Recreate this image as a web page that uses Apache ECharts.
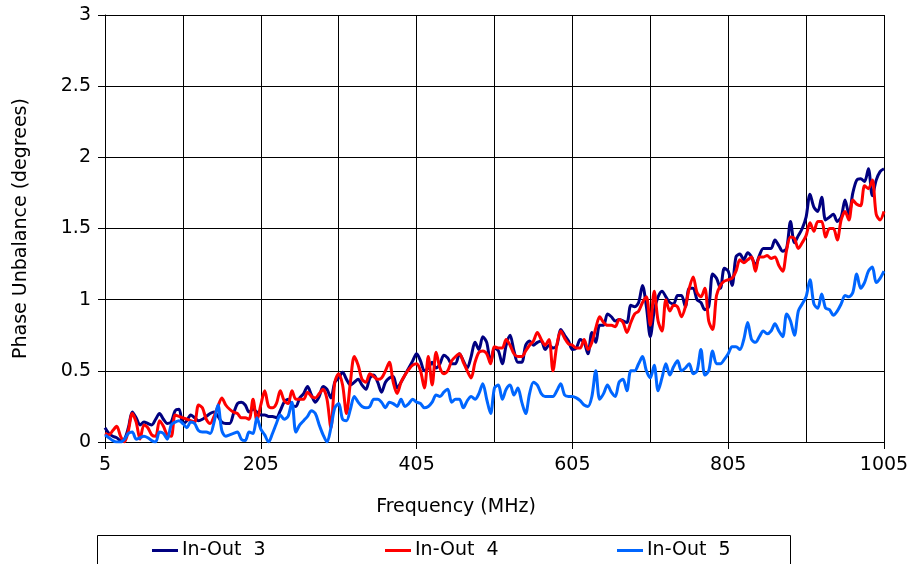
<!DOCTYPE html>
<html>
<head>
<meta charset="utf-8">
<title>Phase Unbalance vs Frequency</title>
<script src="https://cdn.jsdelivr.net/npm/echarts@6.0.0/dist/echarts.min.js"></script>
<style>
  html, body { margin: 0; padding: 0; background: #fff; }
  #chart { width: 912px; height: 564px; }
</style>
</head>
<body>
<div id="chart"></div>
<script>
// Sweep points: 201 frequencies, 5 MHz to 1005 MHz in 5 MHz steps
const freqMHz = Array.from({ length: 201 }, (_, i) => 5 + 5 * i);

// Labelled frequency ticks (every 200 MHz); grid lines every 100 MHz
const xTickLabels = ['5', '205', '405', '605', '805', '1005'];

const seriesNames = ['In-Out  3', 'In-Out  4', 'In-Out  5'];

// Phase unbalance (degrees), one value per sweep point
const inOut3 = [
  0.10, 0.06, 0.04, 0.03, 0.01, 0.02, 0.10, 0.21, 0.17, 0.12,
  0.14, 0.13, 0.12, 0.16, 0.20, 0.16, 0.13, 0.14, 0.22, 0.23,
  0.13, 0.15, 0.19, 0.17, 0.15, 0.16, 0.18, 0.20, 0.21, 0.18,
  0.14, 0.13, 0.13, 0.20, 0.27, 0.28, 0.26, 0.21, 0.23, 0.21,
  0.19, 0.19, 0.18, 0.18, 0.17, 0.22, 0.28, 0.30, 0.26, 0.25,
  0.31, 0.34, 0.39, 0.33, 0.28, 0.32, 0.39, 0.37, 0.31, 0.42,
  0.45, 0.49, 0.44, 0.40, 0.42, 0.44, 0.40, 0.37, 0.45, 0.47,
  0.42, 0.35, 0.42, 0.45, 0.46, 0.38, 0.42, 0.47, 0.52, 0.57,
  0.62, 0.57, 0.50, 0.52, 0.56, 0.52, 0.55, 0.61, 0.59, 0.55,
  0.55, 0.62, 0.57, 0.52, 0.60, 0.70, 0.65, 0.74, 0.70, 0.56,
  0.66, 0.64, 0.55, 0.68, 0.75, 0.64, 0.56, 0.56, 0.68, 0.71,
  0.68, 0.70, 0.71, 0.65, 0.68, 0.66, 0.68, 0.79, 0.75, 0.71,
  0.65, 0.66, 0.72, 0.70, 0.62, 0.77, 0.70, 0.82, 0.82, 0.90,
  0.88, 0.85, 0.86, 0.85, 0.84, 0.96, 0.95, 0.98, 1.10, 0.95,
  0.74, 0.92, 1.02, 1.06, 1.02, 0.98, 0.97, 1.03, 1.03, 0.95,
  1.08, 1.08, 1.00, 0.98, 0.93, 0.95, 1.18, 1.15, 1.08, 1.22,
  1.20, 1.10, 1.30, 1.32, 1.28, 1.33, 1.30, 1.24, 1.31, 1.36,
  1.36, 1.36, 1.42, 1.38, 1.34, 1.36, 1.55, 1.40, 1.45, 1.50,
  1.58, 1.74, 1.65, 1.62, 1.72, 1.56, 1.58, 1.60, 1.55, 1.58,
  1.70, 1.60, 1.75, 1.84, 1.85, 1.83, 1.92, 1.73, 1.84, 1.90,
  1.92
];

const inOut4 = [
  0.06, 0.05, 0.08, 0.11, 0.04, 0.00, 0.08, 0.20, 0.14, 0.02,
  0.12, 0.10, 0.05, 0.04, 0.15, 0.11, 0.05, 0.04, 0.19, 0.18,
  0.17, 0.16, 0.15, 0.14, 0.26, 0.24, 0.16, 0.13, 0.18, 0.25,
  0.31, 0.26, 0.23, 0.21, 0.20, 0.17, 0.17, 0.16, 0.30, 0.15,
  0.26, 0.36, 0.25, 0.24, 0.27, 0.36, 0.29, 0.27, 0.36, 0.30,
  0.30, 0.30, 0.35, 0.32, 0.31, 0.34, 0.37, 0.30, 0.10, 0.42,
  0.48, 0.40, 0.20, 0.42, 0.60, 0.54, 0.44, 0.42, 0.48, 0.46,
  0.44, 0.45, 0.50, 0.56, 0.42, 0.34, 0.42, 0.47, 0.51, 0.54,
  0.55, 0.50, 0.38, 0.60, 0.40, 0.63, 0.52, 0.48, 0.50, 0.57,
  0.60, 0.62, 0.56, 0.50, 0.45, 0.56, 0.63, 0.64, 0.62, 0.55,
  0.67, 0.66, 0.66, 0.72, 0.68, 0.62, 0.60, 0.60, 0.64, 0.68,
  0.71, 0.77, 0.72, 0.68, 0.72, 0.50, 0.68, 0.78, 0.73, 0.69,
  0.68, 0.66, 0.66, 0.72, 0.65, 0.70, 0.80, 0.88, 0.84, 0.82,
  0.82, 0.81, 0.86, 0.84, 0.77, 0.84, 0.90, 0.92, 0.98, 1.02,
  0.82, 1.06, 0.85, 0.78, 1.00, 0.92, 0.96, 0.95, 0.88, 0.95,
  1.08, 1.16, 1.05, 1.02, 1.08, 0.85, 0.79, 1.03, 1.10, 1.13,
  1.14, 1.15, 1.20, 1.28, 1.26, 1.28, 1.30, 1.20, 1.30, 1.30,
  1.31, 1.29, 1.30, 1.24, 1.20, 1.35, 1.44, 1.43, 1.36, 1.40,
  1.45, 1.54, 1.48, 1.55, 1.55, 1.44, 1.50, 1.50, 1.42, 1.56,
  1.62, 1.56, 1.70, 1.67, 1.66, 1.80, 1.78, 1.84, 1.60, 1.56,
  1.62
];

const inOut5 = [
  0.05, 0.03, 0.01, 0.00, 0.00, 0.02, 0.06, 0.07, 0.02, 0.03,
  0.04, 0.03, 0.01, 0.00, 0.07, 0.06, 0.02, 0.12, 0.14, 0.15,
  0.13, 0.10, 0.14, 0.13, 0.08, 0.07, 0.07, 0.06, 0.14, 0.26,
  0.08, 0.04, 0.05, 0.06, 0.07, 0.02, 0.01, 0.07, 0.06, 0.17,
  0.09, 0.05, 0.00, 0.06, 0.13, 0.19, 0.16, 0.18, 0.28, 0.07,
  0.12, 0.15, 0.18, 0.22, 0.20, 0.12, 0.05, 0.00, 0.10, 0.24,
  0.27, 0.16, 0.15, 0.23, 0.32, 0.28, 0.25, 0.24, 0.25, 0.30,
  0.30, 0.28, 0.24, 0.28, 0.27, 0.25, 0.30, 0.25, 0.27, 0.30,
  0.28, 0.27, 0.24, 0.25, 0.28, 0.33, 0.32, 0.35, 0.37, 0.28,
  0.30, 0.30, 0.24, 0.29, 0.32, 0.30, 0.34, 0.41, 0.30, 0.20,
  0.38, 0.40, 0.30, 0.37, 0.40, 0.33, 0.38, 0.28, 0.20, 0.34,
  0.42, 0.40, 0.34, 0.32, 0.32, 0.32, 0.36, 0.41, 0.33, 0.32,
  0.32, 0.31, 0.29, 0.26, 0.25, 0.32, 0.50, 0.30, 0.34, 0.40,
  0.35, 0.32, 0.42, 0.44, 0.36, 0.50, 0.50, 0.55, 0.60, 0.50,
  0.45, 0.54, 0.36, 0.45, 0.55, 0.47, 0.53, 0.57, 0.50, 0.52,
  0.55, 0.48, 0.50, 0.65, 0.47, 0.50, 0.64, 0.55, 0.55, 0.58,
  0.62, 0.67, 0.67, 0.65, 0.72, 0.84, 0.72, 0.70, 0.74, 0.78,
  0.76, 0.78, 0.83, 0.78, 0.74, 0.90, 0.85, 0.75, 0.92, 0.97,
  1.02, 1.14, 0.97, 0.94, 1.04, 0.94, 0.93, 0.89, 0.92, 0.97,
  1.03, 1.02, 1.05, 1.18, 1.08, 1.12, 1.20, 1.23, 1.12, 1.15,
  1.20
];

const seriesData = [inOut3, inOut4, inOut5];
const seriesColors = ['#000080', '#ff0000', '#0066ff'];

const FONT = 'DejaVu Sans, Verdana, sans-serif';
const textBase = { fontFamily: FONT, fontSize: 19, color: '#000' };

const chart = echarts.init(document.getElementById('chart'), null, { renderer: 'canvas' });

chart.setOption({
  animation: false,
  backgroundColor: '#fff',
  textStyle: { fontFamily: FONT },
  title: {
    text: 'Frequency (MHz)',
    left: 'center',
    top: 493,
    textStyle: Object.assign({ fontWeight: 'normal' }, textBase)
  },
  grid: { left: 105, right: 28, top: 15, bottom: 122 },
  xAxis: {
    type: 'category',
    data: freqMHz,
    boundaryGap: false,
    axisLine: { show: true, lineStyle: { color: '#000', width: 1 } },
    axisTick: {
      show: true,
      length: 7,
      interval: (idx, val) => xTickLabels.includes(String(val)),
      lineStyle: { color: '#000' }
    },
    axisLabel: {
      interval: (idx, val) => xTickLabels.includes(String(val)),
      margin: 14,
      ...textBase
    },
    splitLine: {
      show: true,
      interval: (idx) => idx % 20 === 0,
      lineStyle: { color: '#000', width: 1 }
    }
  },
  yAxis: {
    type: 'value',
    min: 0,
    max: 3,
    interval: 0.5,
    name: 'Phase Unbalance (degrees)',
    nameLocation: 'middle',
    nameRotate: 90,
    nameGap: 74,
    nameTextStyle: textBase,
    axisLine: { show: true, lineStyle: { color: '#000', width: 1 } },
    axisTick: { show: true, length: 7, lineStyle: { color: '#000' } },
    axisLabel: { margin: 14, ...textBase },
    splitLine: { show: true, lineStyle: { color: '#000', width: 1 } }
  },
  legend: seriesNames.map((name, k) => ({
    data: [name],
    left: [152, 385, 617][k],
    top: 541,
    icon: 'rect',
    itemWidth: 26,
    itemHeight: 3,
    padding: 0,
    textStyle: Object.assign({ padding: [0, 0, 0, -1] }, textBase)
  })),
  graphic: [{
    type: 'rect',
    shape: { x: 97.5, y: 535.5, width: 693, height: 40 },
    style: { fill: 'none', stroke: '#000', lineWidth: 1 },
    silent: true
  }],
  series: seriesNames.map((name, k) => ({
    name,
    type: 'line',
    data: seriesData[k],
    showSymbol: false,
    smooth: 0.3,
    color: seriesColors[k],
    lineStyle: { color: seriesColors[k], width: 3 },
    emphasis: { disabled: true }
  }))
});
</script>
</body>
</html>
